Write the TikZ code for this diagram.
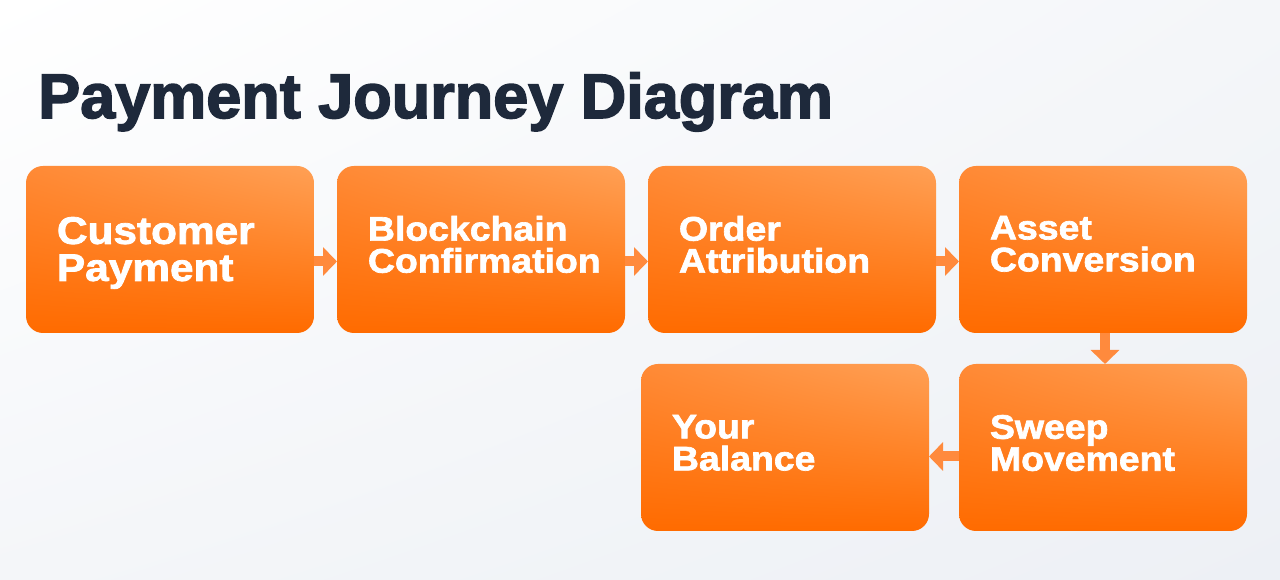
\documentclass[tikz,border=0pt]{standalone}
\usepackage{fontspec}
\setmainfont{Liberation Sans}
\newfontfamily\titlefont{Liberation Sans Bold}[FakeBold=2.5]
\newfontfamily\boxfont{Liberation Sans Bold}[FakeStretch=1.10,FakeBold=2]
\usetikzlibrary{arrows.meta,shadings}
\definecolor{titleC}{HTML}{1E293B}
\definecolor{boxUL}{HTML}{FF8A36}
\definecolor{boxUR}{HTML}{FFA055}
\definecolor{boxB}{HTML}{FF6B00}
\definecolor{arrowC}{HTML}{FF8A3D}
\definecolor{bgM}{HTML}{F4F6F9}
\definecolor{bgD}{HTML}{EDF0F5}
\begin{document}
\begin{tikzpicture}[x=1pt,y=1pt,
  box/.style={rectangle, rounded corners=17pt, minimum width=288pt, minimum height=167pt,
    inner sep=0pt, outer sep=0pt, upper left=boxUL, upper right=boxUR, lower left=boxB, lower right=boxB},
  lbl/.style={anchor=north west, inner sep=0pt, outer sep=0pt, text=white, align=left,
    font=\boxfont\fontsize{34}{32}\selectfont},
  arr/.style={draw=arrowC, line width=10pt, -{Triangle[length=14pt,width=28pt]}}
]
\useasboundingbox (0,0) rectangle (1280,580);
\shade[upper left=white, upper right=bgM, lower left=bgM, lower right=bgD] (0,0) rectangle (1280,580);

\node[anchor=base west, inner sep=0pt, text=titleC, font=\titlefont\fontsize{63}{70}\selectfont] (title) at (38,462) {Payment Journey Diagram};

\node[box] (b1) at (170,330.5) {};
\node[box] (b2) at (481,330.5) {};
\node[box] (b3) at (792,330.5) {};
\node[box] (b4) at (1103,330.5) {};
\node[box] (b6) at (1103,132.5) {};
\node[box] (b5) at (785,132.5) {};

\node[lbl, font=\boxfont\fontsize{38.5}{37}\selectfont] (t1) at (57,363) {Customer\\Payment};
\node[lbl] (t2) at (368,364) {Blockchain\\Confirmation};
\node[lbl] (t3) at (679,364) {Order\\Attribution};
\node[lbl] (t4) at (990,364) {Asset\\Conversion};
\node[lbl] (t5) at (672,165) {Your\\Balance};
\node[lbl] (t6) at (990,165) {Sweep\\Movement};

\draw[arr] ([yshift=-12pt]b1.east) -- ([yshift=-12pt]b2.west);
\draw[arr] ([yshift=-12pt]b2.east) -- ([yshift=-12pt]b3.west);
\draw[arr] ([yshift=-12pt]b3.east) -- ([yshift=-12pt]b4.west);
\draw[arr] ([xshift=2pt]b4.south) -- ([xshift=2pt]b6.north);
\draw[arr] ([yshift=-9pt]b6.west) -- ([yshift=-9pt]b5.east);
\end{tikzpicture}
\end{document}
